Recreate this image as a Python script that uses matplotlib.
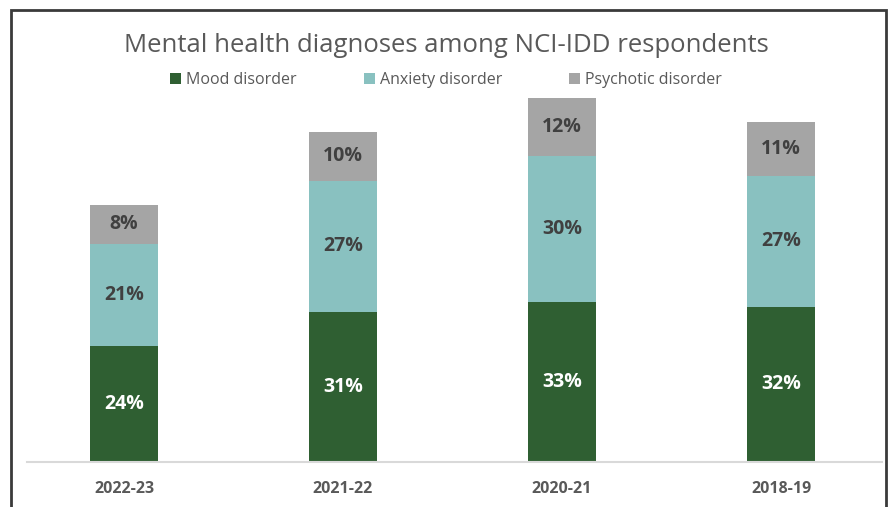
import matplotlib.pyplot as plt
import numpy as np
from matplotlib.patches import Rectangle

# survey years, left to right
years = ['2022-23', '2021-22', '2020-21', '2018-19']

# percent of respondents with each diagnosis
mood = [24, 31, 33, 32]
anxiety = [21, 27, 30, 27]
psychotic = [8, 10, 12, 11]

plt.rcParams['font.family'] = ['Open Sans', 'DejaVu Sans']

fig = plt.figure(figsize=(8.92, 5.07), dpi=100)
ax = fig.add_axes([27/892, 45/507, 855/892, 388/507])

x = np.arange(len(years))
w = 0.31
green = '#2f5f32'
teal = '#89c1c0'
grey = '#a5a5a5'

b1 = ax.bar(x, mood, w, color=green, label='Mood disorder')
b2 = ax.bar(x, anxiety, w, bottom=mood, color=teal, label='Anxiety disorder')
bot = np.array(mood) + np.array(anxiety)
b3 = ax.bar(x, psychotic, w, bottom=bot, color=grey, label='Psychotic disorder')

ax.bar_label(b1, labels=[f'{v}%' for v in mood], label_type='center',
             color='white', fontsize=14, fontweight='bold')
ax.bar_label(b2, labels=[f'{v}%' for v in anxiety], label_type='center',
             color='#404040', fontsize=14, fontweight='bold')
ax.bar_label(b3, labels=[f'{v}%' for v in psychotic], label_type='center',
             color='#404040', fontsize=14, fontweight='bold')

ax.set_xlim(-0.443, 3.461)
ax.set_ylim(0, 80)
ax.set_xticks(x)
ax.set_xticklabels(years, fontsize=11.5, fontweight='bold', color='#595959')
ax.tick_params(axis='x', length=0, pad=14)
ax.set_yticks([])
for s in ['top', 'left', 'right']:
    ax.spines[s].set_visible(False)
ax.spines['bottom'].set_color('#d9d9d9')
ax.spines['bottom'].set_linewidth(1.5)

fig.text(0.5, 1 - 46/507, 'Mental health diagnoses among NCI-IDD respondents',
         ha='center', va='center', fontsize=18.5, color='#595959')

fig.legend(loc='center', bbox_to_anchor=(0.5, 1 - 80/507), ncol=3,
           frameon=False, fontsize=11.5, labelcolor='#595959',
           handlelength=0.7, handleheight=0.7, handletextpad=0.3,
           columnspacing=4.2)

# dark frame around the whole chart
fig.patches.append(Rectangle((11/892, -0.05), 875/892, 1.05 - 10/507,
                             transform=fig.transFigure, fill=False,
                             edgecolor='#3a3a3a', linewidth=2))

fig.savefig('out.png', dpi=100)
